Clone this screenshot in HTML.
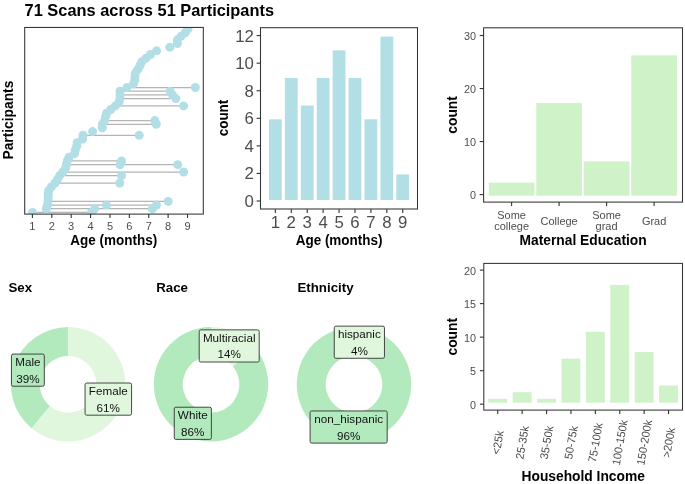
<!DOCTYPE html>
<html><head><meta charset="utf-8"><style>
html,body{margin:0;padding:0;background:#fff;width:685px;height:484px;overflow:hidden}
svg{display:block;font-family:"Liberation Sans", sans-serif;will-change:transform}
</style></head><body>
<svg width="685" height="484" viewBox="0 0 685 484">
<rect width="685" height="484" fill="#fff"/>
<text transform="translate(24.60,16.00) scale(1,1.03)" y="0" font-size="16.4" text-anchor="start" font-weight="bold" fill="#000">71 Scans across 51 Participants</text>
<clipPath id="c1"><rect x="24.7" y="27.45" width="178.60000000000002" height="186.65"/></clipPath>
<g clip-path="url(#c1)">
<line x1="32.60" y1="212.40" x2="91.50" y2="212.40" stroke="#b4b4b4" stroke-width="1.25"/>
<line x1="46.30" y1="208.73" x2="152.40" y2="208.73" stroke="#b4b4b4" stroke-width="1.25"/>
<line x1="47.50" y1="205.06" x2="156.50" y2="205.06" stroke="#b4b4b4" stroke-width="1.25"/>
<line x1="48.00" y1="201.38" x2="168.20" y2="201.38" stroke="#b4b4b4" stroke-width="1.25"/>
<line x1="55.00" y1="183.02" x2="119.80" y2="183.02" stroke="#b4b4b4" stroke-width="1.25"/>
<line x1="59.60" y1="175.68" x2="121.50" y2="175.68" stroke="#b4b4b4" stroke-width="1.25"/>
<line x1="62.80" y1="172.01" x2="183.60" y2="172.01" stroke="#b4b4b4" stroke-width="1.25"/>
<line x1="66.30" y1="164.66" x2="177.70" y2="164.66" stroke="#b4b4b4" stroke-width="1.25"/>
<line x1="67.30" y1="160.99" x2="121.50" y2="160.99" stroke="#b4b4b4" stroke-width="1.25"/>
<line x1="83.00" y1="135.29" x2="139.20" y2="135.29" stroke="#b4b4b4" stroke-width="1.25"/>
<line x1="102.30" y1="124.27" x2="156.30" y2="124.27" stroke="#b4b4b4" stroke-width="1.25"/>
<line x1="104.60" y1="120.60" x2="154.80" y2="120.60" stroke="#b4b4b4" stroke-width="1.25"/>
<line x1="115.30" y1="105.91" x2="183.60" y2="105.91" stroke="#b4b4b4" stroke-width="1.25"/>
<line x1="120.00" y1="98.57" x2="175.80" y2="98.57" stroke="#b4b4b4" stroke-width="1.25"/>
<line x1="120.00" y1="94.90" x2="172.50" y2="94.90" stroke="#b4b4b4" stroke-width="1.25"/>
<line x1="120.00" y1="91.22" x2="170.10" y2="91.22" stroke="#b4b4b4" stroke-width="1.25"/>
<line x1="127.00" y1="87.55" x2="195.30" y2="87.55" stroke="#b4b4b4" stroke-width="1.25"/>
<circle cx="32.60" cy="212.40" r="4.5" fill="#b2dee5"/>
<circle cx="91.50" cy="212.40" r="4.5" fill="#b2dee5"/>
<circle cx="46.30" cy="208.73" r="4.5" fill="#b2dee5"/>
<circle cx="94.60" cy="208.73" r="4.5" fill="#b2dee5"/>
<circle cx="152.40" cy="208.73" r="4.5" fill="#b2dee5"/>
<circle cx="47.50" cy="205.06" r="4.5" fill="#b2dee5"/>
<circle cx="106.30" cy="205.06" r="4.5" fill="#b2dee5"/>
<circle cx="156.50" cy="205.06" r="4.5" fill="#b2dee5"/>
<circle cx="48.00" cy="201.38" r="4.5" fill="#b2dee5"/>
<circle cx="168.20" cy="201.38" r="4.5" fill="#b2dee5"/>
<circle cx="48.20" cy="197.71" r="4.5" fill="#b2dee5"/>
<circle cx="48.20" cy="194.04" r="4.5" fill="#b2dee5"/>
<circle cx="48.80" cy="190.37" r="4.5" fill="#b2dee5"/>
<circle cx="51.50" cy="186.70" r="4.5" fill="#b2dee5"/>
<circle cx="55.00" cy="183.02" r="4.5" fill="#b2dee5"/>
<circle cx="119.80" cy="183.02" r="4.5" fill="#b2dee5"/>
<circle cx="57.50" cy="179.35" r="4.5" fill="#b2dee5"/>
<circle cx="59.60" cy="175.68" r="4.5" fill="#b2dee5"/>
<circle cx="121.50" cy="175.68" r="4.5" fill="#b2dee5"/>
<circle cx="62.80" cy="172.01" r="4.5" fill="#b2dee5"/>
<circle cx="183.60" cy="172.01" r="4.5" fill="#b2dee5"/>
<circle cx="65.50" cy="168.34" r="4.5" fill="#b2dee5"/>
<circle cx="66.30" cy="164.66" r="4.5" fill="#b2dee5"/>
<circle cx="120.10" cy="164.66" r="4.5" fill="#b2dee5"/>
<circle cx="177.70" cy="164.66" r="4.5" fill="#b2dee5"/>
<circle cx="67.30" cy="160.99" r="4.5" fill="#b2dee5"/>
<circle cx="121.50" cy="160.99" r="4.5" fill="#b2dee5"/>
<circle cx="69.00" cy="157.32" r="4.5" fill="#b2dee5"/>
<circle cx="74.50" cy="153.65" r="4.5" fill="#b2dee5"/>
<circle cx="75.30" cy="149.98" r="4.5" fill="#b2dee5"/>
<circle cx="76.70" cy="146.30" r="4.5" fill="#b2dee5"/>
<circle cx="77.10" cy="142.63" r="4.5" fill="#b2dee5"/>
<circle cx="82.50" cy="138.96" r="4.5" fill="#b2dee5"/>
<circle cx="83.00" cy="135.29" r="4.5" fill="#b2dee5"/>
<circle cx="139.20" cy="135.29" r="4.5" fill="#b2dee5"/>
<circle cx="92.60" cy="131.62" r="4.5" fill="#b2dee5"/>
<circle cx="102.30" cy="127.94" r="4.5" fill="#b2dee5"/>
<circle cx="102.30" cy="124.27" r="4.5" fill="#b2dee5"/>
<circle cx="156.30" cy="124.27" r="4.5" fill="#b2dee5"/>
<circle cx="104.60" cy="120.60" r="4.5" fill="#b2dee5"/>
<circle cx="154.80" cy="120.60" r="4.5" fill="#b2dee5"/>
<circle cx="105.50" cy="116.93" r="4.5" fill="#b2dee5"/>
<circle cx="106.50" cy="113.26" r="4.5" fill="#b2dee5"/>
<circle cx="110.70" cy="109.58" r="4.5" fill="#b2dee5"/>
<circle cx="115.30" cy="105.91" r="4.5" fill="#b2dee5"/>
<circle cx="183.60" cy="105.91" r="4.5" fill="#b2dee5"/>
<circle cx="119.00" cy="102.24" r="4.5" fill="#b2dee5"/>
<circle cx="120.00" cy="98.57" r="4.5" fill="#b2dee5"/>
<circle cx="175.80" cy="98.57" r="4.5" fill="#b2dee5"/>
<circle cx="120.00" cy="94.90" r="4.5" fill="#b2dee5"/>
<circle cx="172.50" cy="94.90" r="4.5" fill="#b2dee5"/>
<circle cx="120.00" cy="91.22" r="4.5" fill="#b2dee5"/>
<circle cx="170.10" cy="91.22" r="4.5" fill="#b2dee5"/>
<circle cx="127.00" cy="87.55" r="4.5" fill="#b2dee5"/>
<circle cx="195.30" cy="87.55" r="4.5" fill="#b2dee5"/>
<circle cx="133.50" cy="83.88" r="4.5" fill="#b2dee5"/>
<circle cx="134.80" cy="80.21" r="4.5" fill="#b2dee5"/>
<circle cx="135.00" cy="76.54" r="4.5" fill="#b2dee5"/>
<circle cx="135.50" cy="72.86" r="4.5" fill="#b2dee5"/>
<circle cx="138.00" cy="69.19" r="4.5" fill="#b2dee5"/>
<circle cx="140.00" cy="65.52" r="4.5" fill="#b2dee5"/>
<circle cx="141.75" cy="61.85" r="4.5" fill="#b2dee5"/>
<circle cx="146.10" cy="58.18" r="4.5" fill="#b2dee5"/>
<circle cx="150.50" cy="54.50" r="4.5" fill="#b2dee5"/>
<circle cx="156.60" cy="50.83" r="4.5" fill="#b2dee5"/>
<circle cx="169.80" cy="47.16" r="4.5" fill="#b2dee5"/>
<circle cx="177.40" cy="43.49" r="4.5" fill="#b2dee5"/>
<circle cx="177.40" cy="39.82" r="4.5" fill="#b2dee5"/>
<circle cx="181.20" cy="36.14" r="4.5" fill="#b2dee5"/>
<circle cx="185.50" cy="32.47" r="4.5" fill="#b2dee5"/>
<circle cx="188.00" cy="28.80" r="4.5" fill="#b2dee5"/>
</g>
<rect x="24.70" y="27.45" width="178.60" height="186.65" fill="none" stroke="#333" stroke-width="1.05"/>
<line x1="32.40" y1="214.10" x2="32.40" y2="218.00" stroke="#333333" stroke-width="1.1"/>
<text transform="translate(32.40,229.60)" y="0" font-size="11" text-anchor="middle" font-weight="normal" fill="#4d4d4d">1</text>
<line x1="51.79" y1="214.10" x2="51.79" y2="218.00" stroke="#333333" stroke-width="1.1"/>
<text transform="translate(51.79,229.60)" y="0" font-size="11" text-anchor="middle" font-weight="normal" fill="#4d4d4d">2</text>
<line x1="71.18" y1="214.10" x2="71.18" y2="218.00" stroke="#333333" stroke-width="1.1"/>
<text transform="translate(71.18,229.60)" y="0" font-size="11" text-anchor="middle" font-weight="normal" fill="#4d4d4d">3</text>
<line x1="90.57" y1="214.10" x2="90.57" y2="218.00" stroke="#333333" stroke-width="1.1"/>
<text transform="translate(90.57,229.60)" y="0" font-size="11" text-anchor="middle" font-weight="normal" fill="#4d4d4d">4</text>
<line x1="109.96" y1="214.10" x2="109.96" y2="218.00" stroke="#333333" stroke-width="1.1"/>
<text transform="translate(109.96,229.60)" y="0" font-size="11" text-anchor="middle" font-weight="normal" fill="#4d4d4d">5</text>
<line x1="129.35" y1="214.10" x2="129.35" y2="218.00" stroke="#333333" stroke-width="1.1"/>
<text transform="translate(129.35,229.60)" y="0" font-size="11" text-anchor="middle" font-weight="normal" fill="#4d4d4d">6</text>
<line x1="148.74" y1="214.10" x2="148.74" y2="218.00" stroke="#333333" stroke-width="1.1"/>
<text transform="translate(148.74,229.60)" y="0" font-size="11" text-anchor="middle" font-weight="normal" fill="#4d4d4d">7</text>
<line x1="168.13" y1="214.10" x2="168.13" y2="218.00" stroke="#333333" stroke-width="1.1"/>
<text transform="translate(168.13,229.60)" y="0" font-size="11" text-anchor="middle" font-weight="normal" fill="#4d4d4d">8</text>
<line x1="187.52" y1="214.10" x2="187.52" y2="218.00" stroke="#333333" stroke-width="1.1"/>
<text transform="translate(187.52,229.60)" y="0" font-size="11" text-anchor="middle" font-weight="normal" fill="#4d4d4d">9</text>
<text transform="translate(113.80,244.90) scale(1,1.03)" y="0" font-size="13.5" text-anchor="middle" font-weight="bold" fill="#000">Age (months)</text>
<text transform="translate(13.30,120.10) rotate(-90) scale(1,1.03)" y="0" font-size="13.8" text-anchor="middle" font-weight="bold" fill="#000">Participants</text>
<rect x="268.95" y="119.30" width="12.80" height="80.70" fill="#b2dee5" />
<rect x="284.88" y="77.95" width="12.80" height="122.05" fill="#b2dee5" />
<rect x="300.80" y="105.52" width="12.80" height="94.48" fill="#b2dee5" />
<rect x="316.73" y="77.95" width="12.80" height="122.05" fill="#b2dee5" />
<rect x="332.65" y="50.39" width="12.80" height="149.61" fill="#b2dee5" />
<rect x="348.58" y="77.95" width="12.80" height="122.05" fill="#b2dee5" />
<rect x="364.50" y="119.30" width="12.80" height="80.70" fill="#b2dee5" />
<rect x="380.43" y="36.60" width="12.80" height="163.40" fill="#b2dee5" />
<rect x="396.35" y="174.43" width="12.80" height="25.57" fill="#b2dee5" />
<rect x="260.50" y="27.70" width="157.00" height="181.30" fill="none" stroke="#333" stroke-width="1.05"/>
<line x1="256.60" y1="201.00" x2="260.50" y2="201.00" stroke="#333333" stroke-width="1.1"/>
<text transform="translate(253.90,207.00)" y="0" font-size="16.8" text-anchor="end" font-weight="normal" fill="#4d4d4d">0</text>
<line x1="256.60" y1="173.43" x2="260.50" y2="173.43" stroke="#333333" stroke-width="1.1"/>
<text transform="translate(253.90,179.43)" y="0" font-size="16.8" text-anchor="end" font-weight="normal" fill="#4d4d4d">2</text>
<line x1="256.60" y1="145.87" x2="260.50" y2="145.87" stroke="#333333" stroke-width="1.1"/>
<text transform="translate(253.90,151.87)" y="0" font-size="16.8" text-anchor="end" font-weight="normal" fill="#4d4d4d">4</text>
<line x1="256.60" y1="118.30" x2="260.50" y2="118.30" stroke="#333333" stroke-width="1.1"/>
<text transform="translate(253.90,124.30)" y="0" font-size="16.8" text-anchor="end" font-weight="normal" fill="#4d4d4d">6</text>
<line x1="256.60" y1="90.74" x2="260.50" y2="90.74" stroke="#333333" stroke-width="1.1"/>
<text transform="translate(253.90,96.74)" y="0" font-size="16.8" text-anchor="end" font-weight="normal" fill="#4d4d4d">8</text>
<line x1="256.60" y1="63.17" x2="260.50" y2="63.17" stroke="#333333" stroke-width="1.1"/>
<text transform="translate(253.90,69.17)" y="0" font-size="16.8" text-anchor="end" font-weight="normal" fill="#4d4d4d">10</text>
<line x1="256.60" y1="35.60" x2="260.50" y2="35.60" stroke="#333333" stroke-width="1.1"/>
<text transform="translate(253.90,41.60)" y="0" font-size="16.8" text-anchor="end" font-weight="normal" fill="#4d4d4d">12</text>
<line x1="275.35" y1="209.00" x2="275.35" y2="212.90" stroke="#333333" stroke-width="1.1"/>
<text transform="translate(275.35,228.10)" y="0" font-size="16.8" text-anchor="middle" font-weight="normal" fill="#4d4d4d">1</text>
<line x1="291.28" y1="209.00" x2="291.28" y2="212.90" stroke="#333333" stroke-width="1.1"/>
<text transform="translate(291.28,228.10)" y="0" font-size="16.8" text-anchor="middle" font-weight="normal" fill="#4d4d4d">2</text>
<line x1="307.20" y1="209.00" x2="307.20" y2="212.90" stroke="#333333" stroke-width="1.1"/>
<text transform="translate(307.20,228.10)" y="0" font-size="16.8" text-anchor="middle" font-weight="normal" fill="#4d4d4d">3</text>
<line x1="323.12" y1="209.00" x2="323.12" y2="212.90" stroke="#333333" stroke-width="1.1"/>
<text transform="translate(323.12,228.10)" y="0" font-size="16.8" text-anchor="middle" font-weight="normal" fill="#4d4d4d">4</text>
<line x1="339.05" y1="209.00" x2="339.05" y2="212.90" stroke="#333333" stroke-width="1.1"/>
<text transform="translate(339.05,228.10)" y="0" font-size="16.8" text-anchor="middle" font-weight="normal" fill="#4d4d4d">5</text>
<line x1="354.98" y1="209.00" x2="354.98" y2="212.90" stroke="#333333" stroke-width="1.1"/>
<text transform="translate(354.98,228.10)" y="0" font-size="16.8" text-anchor="middle" font-weight="normal" fill="#4d4d4d">6</text>
<line x1="370.90" y1="209.00" x2="370.90" y2="212.90" stroke="#333333" stroke-width="1.1"/>
<text transform="translate(370.90,228.10)" y="0" font-size="16.8" text-anchor="middle" font-weight="normal" fill="#4d4d4d">7</text>
<line x1="386.83" y1="209.00" x2="386.83" y2="212.90" stroke="#333333" stroke-width="1.1"/>
<text transform="translate(386.83,228.10)" y="0" font-size="16.8" text-anchor="middle" font-weight="normal" fill="#4d4d4d">8</text>
<line x1="402.75" y1="209.00" x2="402.75" y2="212.90" stroke="#333333" stroke-width="1.1"/>
<text transform="translate(402.75,228.10)" y="0" font-size="16.8" text-anchor="middle" font-weight="normal" fill="#4d4d4d">9</text>
<text transform="translate(339.10,244.90) scale(1,1.03)" y="0" font-size="13.5" text-anchor="middle" font-weight="bold" fill="#000">Age (months)</text>
<text transform="translate(228.40,118.00) rotate(-90) scale(1,1.03)" y="0" font-size="13.5" text-anchor="middle" font-weight="bold" fill="#000">count</text>
<rect x="488.75" y="182.59" width="45.70" height="13.11" fill="#cff2c9" />
<rect x="536.25" y="103.05" width="45.70" height="92.65" fill="#cff2c9" />
<rect x="583.75" y="161.38" width="45.70" height="34.32" fill="#cff2c9" />
<rect x="631.25" y="55.32" width="45.70" height="140.38" fill="#cff2c9" />
<rect x="483.60" y="27.80" width="198.90" height="174.30" fill="none" stroke="#333" stroke-width="1.05"/>
<line x1="479.70" y1="194.60" x2="483.60" y2="194.60" stroke="#333333" stroke-width="1.1"/>
<text transform="translate(476.00,199.10)" y="0" font-size="10.8" text-anchor="end" font-weight="normal" fill="#4d4d4d">0</text>
<line x1="479.70" y1="141.57" x2="483.60" y2="141.57" stroke="#333333" stroke-width="1.1"/>
<text transform="translate(476.00,146.07)" y="0" font-size="10.8" text-anchor="end" font-weight="normal" fill="#4d4d4d">10</text>
<line x1="479.70" y1="88.54" x2="483.60" y2="88.54" stroke="#333333" stroke-width="1.1"/>
<text transform="translate(476.00,93.04)" y="0" font-size="10.8" text-anchor="end" font-weight="normal" fill="#4d4d4d">20</text>
<line x1="479.70" y1="35.51" x2="483.60" y2="35.51" stroke="#333333" stroke-width="1.1"/>
<text transform="translate(476.00,40.01)" y="0" font-size="10.8" text-anchor="end" font-weight="normal" fill="#4d4d4d">30</text>
<line x1="511.60" y1="202.10" x2="511.60" y2="206.00" stroke="#333333" stroke-width="1.1"/>
<text transform="translate(511.60,218.80) scale(1,1.03)" y="0" font-size="11" text-anchor="middle" font-weight="normal" fill="#4d4d4d">Some</text>
<text transform="translate(511.60,230.40) scale(1,1.03)" y="0" font-size="11" text-anchor="middle" font-weight="normal" fill="#4d4d4d">college</text>
<line x1="559.10" y1="202.10" x2="559.10" y2="206.00" stroke="#333333" stroke-width="1.1"/>
<text transform="translate(559.10,224.80) scale(1,1.03)" y="0" font-size="11" text-anchor="middle" font-weight="normal" fill="#4d4d4d">College</text>
<line x1="606.60" y1="202.10" x2="606.60" y2="206.00" stroke="#333333" stroke-width="1.1"/>
<text transform="translate(606.60,218.80) scale(1,1.03)" y="0" font-size="11" text-anchor="middle" font-weight="normal" fill="#4d4d4d">Some</text>
<text transform="translate(606.60,230.40) scale(1,1.03)" y="0" font-size="11" text-anchor="middle" font-weight="normal" fill="#4d4d4d">grad</text>
<line x1="654.10" y1="202.10" x2="654.10" y2="206.00" stroke="#333333" stroke-width="1.1"/>
<text transform="translate(654.10,224.80) scale(1,1.03)" y="0" font-size="11" text-anchor="middle" font-weight="normal" fill="#4d4d4d">Grad</text>
<text transform="translate(583.10,245.10) scale(1,1.03)" y="0" font-size="13.8" text-anchor="middle" font-weight="bold" fill="#000">Maternal Education</text>
<text transform="translate(457.00,114.90) rotate(-90) scale(1,1.03)" y="0" font-size="13.8" text-anchor="middle" font-weight="bold" fill="#000">count</text>
<rect x="488.30" y="398.89" width="18.90" height="3.81" fill="#cff2c9" />
<rect x="512.70" y="392.19" width="18.90" height="10.51" fill="#cff2c9" />
<rect x="537.10" y="398.89" width="18.90" height="3.81" fill="#cff2c9" />
<rect x="561.50" y="358.66" width="18.90" height="44.04" fill="#cff2c9" />
<rect x="585.90" y="331.84" width="18.90" height="70.86" fill="#cff2c9" />
<rect x="610.30" y="284.91" width="18.90" height="117.79" fill="#cff2c9" />
<rect x="634.70" y="351.96" width="18.90" height="50.74" fill="#cff2c9" />
<rect x="659.10" y="385.48" width="18.90" height="17.22" fill="#cff2c9" />
<rect x="483.80" y="263.40" width="198.70" height="146.70" fill="none" stroke="#333" stroke-width="1.05"/>
<line x1="479.90" y1="404.20" x2="483.80" y2="404.20" stroke="#333333" stroke-width="1.1"/>
<text transform="translate(476.00,408.70)" y="0" font-size="10.8" text-anchor="end" font-weight="normal" fill="#4d4d4d">0</text>
<line x1="479.90" y1="370.68" x2="483.80" y2="370.68" stroke="#333333" stroke-width="1.1"/>
<text transform="translate(476.00,375.18)" y="0" font-size="10.8" text-anchor="end" font-weight="normal" fill="#4d4d4d">5</text>
<line x1="479.90" y1="337.15" x2="483.80" y2="337.15" stroke="#333333" stroke-width="1.1"/>
<text transform="translate(476.00,341.65)" y="0" font-size="10.8" text-anchor="end" font-weight="normal" fill="#4d4d4d">10</text>
<line x1="479.90" y1="303.62" x2="483.80" y2="303.62" stroke="#333333" stroke-width="1.1"/>
<text transform="translate(476.00,308.12)" y="0" font-size="10.8" text-anchor="end" font-weight="normal" fill="#4d4d4d">15</text>
<line x1="479.90" y1="270.10" x2="483.80" y2="270.10" stroke="#333333" stroke-width="1.1"/>
<text transform="translate(476.00,274.60)" y="0" font-size="10.8" text-anchor="end" font-weight="normal" fill="#4d4d4d">20</text>
<line x1="497.75" y1="410.10" x2="497.75" y2="414.00" stroke="#333333" stroke-width="1.1"/>
<text transform="translate(497.75,442.50) rotate(-80) scale(1,1.03)" y="3.9" font-size="11" text-anchor="middle" font-weight="normal" fill="#4d4d4d">&lt;25k</text>
<line x1="522.15" y1="410.10" x2="522.15" y2="414.00" stroke="#333333" stroke-width="1.1"/>
<text transform="translate(522.15,442.50) rotate(-80) scale(1,1.03)" y="3.9" font-size="11" text-anchor="middle" font-weight="normal" fill="#4d4d4d">25-35k</text>
<line x1="546.55" y1="410.10" x2="546.55" y2="414.00" stroke="#333333" stroke-width="1.1"/>
<text transform="translate(546.55,442.50) rotate(-80) scale(1,1.03)" y="3.9" font-size="11" text-anchor="middle" font-weight="normal" fill="#4d4d4d">35-50k</text>
<line x1="570.95" y1="410.10" x2="570.95" y2="414.00" stroke="#333333" stroke-width="1.1"/>
<text transform="translate(570.95,442.50) rotate(-80) scale(1,1.03)" y="3.9" font-size="11" text-anchor="middle" font-weight="normal" fill="#4d4d4d">50-75k</text>
<line x1="595.35" y1="410.10" x2="595.35" y2="414.00" stroke="#333333" stroke-width="1.1"/>
<text transform="translate(595.35,442.50) rotate(-80) scale(1,1.03)" y="3.9" font-size="11" text-anchor="middle" font-weight="normal" fill="#4d4d4d">75-100k</text>
<line x1="619.75" y1="410.10" x2="619.75" y2="414.00" stroke="#333333" stroke-width="1.1"/>
<text transform="translate(619.75,442.50) rotate(-80) scale(1,1.03)" y="3.9" font-size="11" text-anchor="middle" font-weight="normal" fill="#4d4d4d">100-150k</text>
<line x1="644.15" y1="410.10" x2="644.15" y2="414.00" stroke="#333333" stroke-width="1.1"/>
<text transform="translate(644.15,442.50) rotate(-80) scale(1,1.03)" y="3.9" font-size="11" text-anchor="middle" font-weight="normal" fill="#4d4d4d">150-200k</text>
<line x1="668.55" y1="410.10" x2="668.55" y2="414.00" stroke="#333333" stroke-width="1.1"/>
<text transform="translate(668.55,442.50) rotate(-80) scale(1,1.03)" y="3.9" font-size="11" text-anchor="middle" font-weight="normal" fill="#4d4d4d">&gt;200k</text>
<text transform="translate(583.20,480.50) scale(1,1.03)" y="0" font-size="13.8" text-anchor="middle" font-weight="bold" fill="#000">Household Income</text>
<text transform="translate(457.00,336.75) rotate(-90) scale(1,1.03)" y="0" font-size="13.8" text-anchor="middle" font-weight="bold" fill="#000">count</text>
<path d="M31.64,428.37 A57.2,57.2 0 0 1 68.10,327.10 L68.10,356.00 A28.3,28.3 0 0 0 50.06,406.11 Z" fill="#b2e9bd"/>
<path d="M68.10,327.10 A57.2,57.2 0 1 1 31.64,428.37 L50.06,406.11 A28.3,28.3 0 1 0 68.10,356.00 Z" fill="#e0f7de"/>
<rect x="11.45" y="354.07" width="32.85" height="32.15" rx="1.6" fill="#b2e9bd" stroke="#333" stroke-width="0.9"/>
<text transform="translate(27.88,365.72) scale(1,0.95)" y="0" font-size="11.7" text-anchor="middle" font-weight="normal" fill="#111">Male</text>
<text transform="translate(27.88,382.62) scale(1,0.95)" y="0" font-size="11.7" text-anchor="middle" font-weight="normal" fill="#111">39%</text>
<rect x="85.07" y="383.03" width="46.50" height="32.15" rx="1.6" fill="#e0f7de" stroke="#333" stroke-width="0.9"/>
<text transform="translate(108.32,394.68) scale(1,0.95)" y="0" font-size="11.7" text-anchor="middle" font-weight="normal" fill="#111">Female</text>
<text transform="translate(108.32,411.58) scale(1,0.95)" y="0" font-size="11.7" text-anchor="middle" font-weight="normal" fill="#111">61%</text>
<text transform="translate(8.40,291.80) scale(1,1.03)" y="0" font-size="13.3" text-anchor="start" font-weight="bold" fill="#000">Sex</text>
<path d="M255.07,347.84 A57.2,57.2 0 1 1 211.00,327.10 L211.00,356.00 A28.3,28.3 0 1 0 232.81,366.26 Z" fill="#b2e9bd"/>
<path d="M211.00,327.10 A57.2,57.2 0 0 1 255.07,347.84 L232.81,366.26 A28.3,28.3 0 0 0 211.00,356.00 Z" fill="#e0f7de"/>
<rect x="174.25" y="407.23" width="37.10" height="32.15" rx="1.6" fill="#b2e9bd" stroke="#333" stroke-width="0.9"/>
<text transform="translate(192.80,418.88) scale(1,0.95)" y="0" font-size="11.7" text-anchor="middle" font-weight="normal" fill="#111">White</text>
<text transform="translate(192.80,435.78) scale(1,0.95)" y="0" font-size="11.7" text-anchor="middle" font-weight="normal" fill="#111">86%</text>
<rect x="199.20" y="329.87" width="60.00" height="32.15" rx="1.6" fill="#e0f7de" stroke="#333" stroke-width="0.9"/>
<text transform="translate(229.20,341.52) scale(1,0.95)" y="0" font-size="11.7" text-anchor="middle" font-weight="normal" fill="#111">Multiracial</text>
<text transform="translate(229.20,358.42) scale(1,0.95)" y="0" font-size="11.7" text-anchor="middle" font-weight="normal" fill="#111">14%</text>
<text transform="translate(156.20,291.80) scale(1,1.03)" y="0" font-size="13.3" text-anchor="start" font-weight="bold" fill="#000">Race</text>
<path d="M368.23,328.90 A57.2,57.2 0 1 1 354.00,327.10 L354.00,356.00 A28.3,28.3 0 1 0 361.04,356.89 Z" fill="#b2e9bd"/>
<path d="M354.00,327.10 A57.2,57.2 0 0 1 368.23,328.90 L361.04,356.89 A28.3,28.3 0 0 0 354.00,356.00 Z" fill="#e0f7de"/>
<rect x="310.09" y="410.96" width="77.10" height="32.15" rx="1.6" fill="#b2e9bd" stroke="#333" stroke-width="0.9"/>
<text transform="translate(348.64,422.61) scale(1,0.95)" y="0" font-size="11.7" text-anchor="middle" font-weight="normal" fill="#111">non_hispanic</text>
<text transform="translate(348.64,439.51) scale(1,0.95)" y="0" font-size="11.7" text-anchor="middle" font-weight="normal" fill="#111">96%</text>
<rect x="334.26" y="326.14" width="50.20" height="32.15" rx="1.6" fill="#e0f7de" stroke="#333" stroke-width="0.9"/>
<text transform="translate(359.36,337.79) scale(1,0.95)" y="0" font-size="11.7" text-anchor="middle" font-weight="normal" fill="#111">hispanic</text>
<text transform="translate(359.36,354.69) scale(1,0.95)" y="0" font-size="11.7" text-anchor="middle" font-weight="normal" fill="#111">4%</text>
<text transform="translate(297.40,291.80) scale(1,1.03)" y="0" font-size="13.3" text-anchor="start" font-weight="bold" fill="#000">Ethnicity</text>
</svg>
</body></html>
